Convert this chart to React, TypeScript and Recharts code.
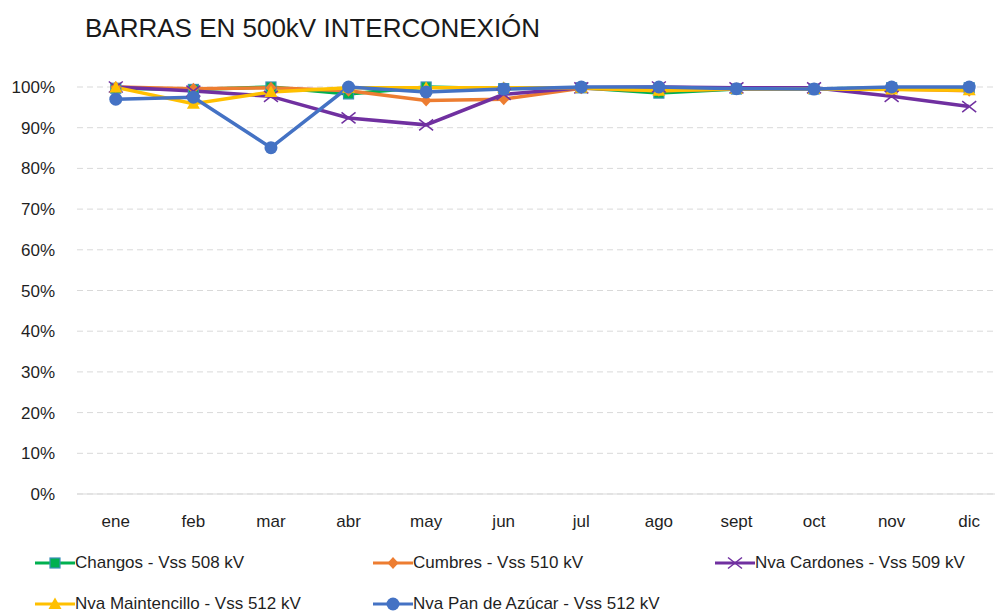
import React from 'react'
import { LineChart, Line, XAxis, YAxis, CartesianGrid } from 'recharts'

// months on the category axis
const months = ['ene', 'feb', 'mar', 'abr', 'may', 'jun', 'jul', 'ago', 'sept', 'oct', 'nov', 'dic']

// availability per bus, in percent
const changos = [99.7, 99.4, 100, 98.3, 100, 99.6, 99.8, 98.5, 99.5, 99.5, 99.8, 99.8]
const cumbres = [100, 99.6, 99.8, 99.1, 96.7, 97, 99.7, 99.1, 99.5, 99.5, 99.5, 99.1]
const cardones = [100, 99, 97.7, 92.4, 90.7, 98.2, 99.8, 100, 99.8, 99.8, 97.7, 95.2]
const maintencillo = [99.9, 95.9, 98.8, 99.8, 99.8, 99.8, 99.8, 99.1, 99.6, 99.5, 99.4, 99.2]
const panDeAzucar = [97, 97.5, 85.1, 100, 98.8, 99.5, 100, 100, 99.6, 99.5, 100, 100]

const yTicks = [0, 10, 20, 30, 40, 50, 60, 70, 80, 90, 100]

const data = months.map((m, i) => ({
  month: m,
  changos: changos[i],
  cumbres: cumbres[i],
  cardones: cardones[i],
  maintencillo: maintencillo[i],
  pan: panDeAzucar[i],
}))

type Shape = 'square' | 'diamond' | 'x' | 'triangle' | 'circle'

const series: { key: string; name: string; color: string; shape: Shape }[] = [
  { key: 'changos', name: 'Changos - Vss 508 kV', color: '#00B050', shape: 'square' },
  { key: 'cumbres', name: 'Cumbres - Vss 510 kV', color: '#ED7D31', shape: 'diamond' },
  { key: 'cardones', name: 'Nva Cardones - Vss 509 kV', color: '#7030A0', shape: 'x' },
  { key: 'maintencillo', name: 'Nva Maintencillo - Vss 512 kV', color: '#FFC000', shape: 'triangle' },
  { key: 'pan', name: 'Nva Pan de Azúcar - Vss 512 kV', color: '#4472C4', shape: 'circle' },
]

const FONT = '"Liberation Sans", Arial, sans-serif'

function Marker({ cx, cy, shape, color }: { cx: number; cy: number; shape: Shape; color: string }) {
  if (cx == null || cy == null) return null
  switch (shape) {
    case 'square':
      return <rect x={cx - 5} y={cy - 5} width={10} height={10} fill={color} stroke="#3A8FB7" strokeWidth={1.2} />
    case 'diamond':
      return <path d={`M${cx},${cy - 6}L${cx + 5.5},${cy}L${cx},${cy + 6}L${cx - 5.5},${cy}Z`} fill={color} />
    case 'x':
      return (
        <path
          d={`M${cx - 7},${cy - 5.5}L${cx + 7},${cy + 5.5}M${cx - 7},${cy + 5.5}L${cx + 7},${cy - 5.5}`}
          stroke={color}
          strokeWidth={1.5}
          fill="none"
        />
      )
    case 'triangle':
      return <path d={`M${cx},${cy - 6.5}L${cx + 6.5},${cy + 5}L${cx - 6.5},${cy + 5}Z`} fill={color} />
    default:
      return <circle cx={cx} cy={cy} r={6.5} fill={color} />
  }
}

function LegendItem({ name, color, shape }: { name: string; color: string; shape: Shape }) {
  return (
    <div style={{ display: 'flex', alignItems: 'center', height: 20 }}>
      <svg width={40} height={16}>
        <line x1={0} y1={8} x2={40} y2={8} stroke={color} strokeWidth={3} />
        <Marker cx={20} cy={8} shape={shape} color={color} />
      </svg>
      <span style={{ fontFamily: FONT, fontSize: 17, color: '#1f1f1f', whiteSpace: 'nowrap' }}>{name}</span>
    </div>
  )
}

export default function App() {
  return (
    <div style={{ position: 'absolute', left: 0, top: 0, width: 995, height: 615, overflow: 'hidden', background: '#fff' }}>
      <div
        style={{
          position: 'absolute',
          left: 85,
          top: 13,
          fontFamily: FONT,
          fontSize: 26,
          lineHeight: '30px',
          color: '#1a1a1a',
          whiteSpace: 'nowrap',
        }}
      >
        BARRAS EN 500kV INTERCONEXIÓN
      </div>

      <div style={{ position: 'absolute', left: 0, top: 0 }}>
        <LineChart width={1010} height={540} data={data} margin={{ top: 87, right: 2, bottom: 6, left: 0 }}>
          <CartesianGrid vertical={false} stroke="#d9d9d9" strokeDasharray="6 4" />
          <XAxis
            dataKey="month"
            scale="band"
            tickLine={false}
            tickSize={0}
            tickMargin={21}
            height={40}
            axisLine={{ stroke: '#d9d9d9' }}
            tick={{ fontFamily: FONT, fontSize: 17, fill: '#1f1f1f' }}
            interval={0}
          />
          <YAxis
            domain={[0, 100]}
            ticks={yTicks}
            width={77}
            tickLine={false}
            axisLine={false}
            tickSize={0}
            tickMargin={22}
            tickFormatter={(v: number) => `${v}%`}
            tick={{ fontFamily: FONT, fontSize: 17, fill: '#1f1f1f' }}
          />
          {series.map((s) => (
            <Line
              key={s.key}
              dataKey={s.key}
              name={s.name}
              stroke={s.color}
              strokeWidth={3.5}
              isAnimationActive={false}
              dot={(p: any) => <Marker key={`${s.key}-${p.index}`} cx={p.cx} cy={p.cy} shape={s.shape} color={s.color} />}
              activeDot={false}
            />
          ))}
        </LineChart>
      </div>

      <div style={{ position: 'absolute', left: 35, top: 553, display: 'flex' }}>
        <div style={{ width: 338 }}>
          <LegendItem {...series[0]} />
        </div>
        <div style={{ width: 342 }}>
          <LegendItem {...series[1]} />
        </div>
        <LegendItem {...series[2]} />
      </div>
      <div style={{ position: 'absolute', left: 35, top: 594, display: 'flex' }}>
        <div style={{ width: 338 }}>
          <LegendItem {...series[3]} />
        </div>
        <LegendItem {...series[4]} />
      </div>
    </div>
  )
}
